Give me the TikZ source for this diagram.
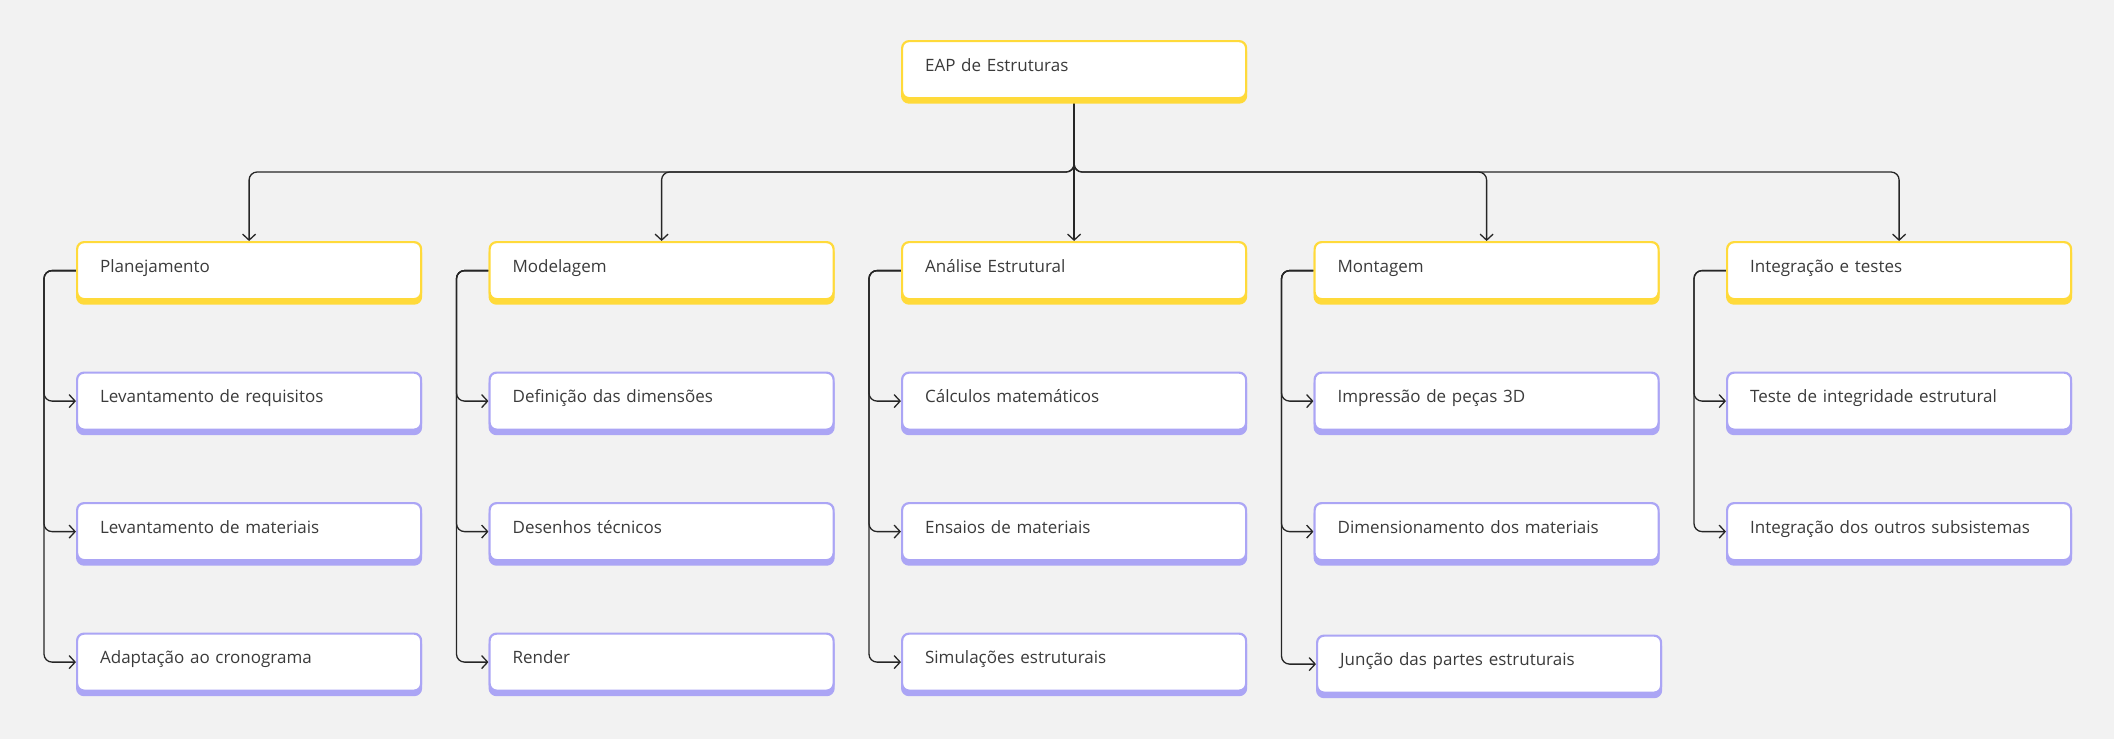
\documentclass[tikz,border=0pt]{standalone}
\usepackage{fontspec}
\setmainfont{Open Sans}
\usetikzlibrary{arrows.meta,shadows,backgrounds}
\usepackage{xcolor}

\definecolor{bggray}{HTML}{F2F2F2}
\definecolor{eapyellow}{HTML}{FFDA3A}
\definecolor{eappurple}{HTML}{ABA5F5}
\definecolor{eaptext}{HTML}{3B3B3B}

\tikzset{
  box/.style={draw, fill=white, line width=2.2pt, rounded corners=7pt, anchor=north west,
    inner xsep=23pt, inner ysep=0pt, text width=298pt, align=left,
    text height=30pt, text depth=27pt, text=eaptext, font=\fontsize{17}{20}\selectfont},
  topbox/.style={box, draw=eapyellow,
    general shadow={fill=eapyellow, draw=eapyellow, shadow yshift=-4.5pt}},
  subbox/.style={box, draw=eappurple,
    general shadow={fill=eappurple, draw=eappurple, shadow yshift=-4.5pt}},
  link/.style={line width=1.3pt, draw=black!85, rounded corners=8pt,
    -{Straight Barb[length=6pt,width=13pt]}}
}

\begin{document}
\begin{tikzpicture}[x=1pt,y=-1pt]
      \useasboundingbox (0,0) rectangle (2114,739);

      % Drawing the root
      \node[topbox] (root) at (901,40) {EAP de Estruturas};

      % Drawing the work packages
      \node[topbox] (plan) at (76,241) {Planejamento};
      \node[topbox] (model) at (488.5,241) {Modelagem};
      \node[topbox] (anal) at (901,241) {Análise Estrutural};
      \node[topbox] (mont) at (1313.5,241) {Montagem};
      \node[topbox] (integ) at (1726,241) {Integração e testes};

      % Drawing the tasks
      \node[subbox] (plan1) at (76,371.5) {Levantamento de requisitos};
      \node[subbox] (plan2) at (76,502) {Levantamento de materiais};
      \node[subbox] (plan3) at (76,632.5) {Adaptação ao cronograma};
      \node[subbox] (model1) at (488.5,371.5) {Definição das dimensões};
      \node[subbox] (model2) at (488.5,502) {Desenhos técnicos};
      \node[subbox] (model3) at (488.5,632.5) {Render};
      \node[subbox] (anal1) at (901,371.5) {Cálculos matemáticos};
      \node[subbox] (anal2) at (901,502) {Ensaios de materiais};
      \node[subbox] (anal3) at (901,632.5) {Simulações estruturais};
      \node[subbox] (mont1) at (1313.5,371.5) {Impressão de peças 3D};
      \node[subbox] (mont2) at (1313.5,502) {Dimensionamento dos materiais};
      \node[subbox] (mont3) at (1316,634.5) {Junção das partes estruturais};
      \node[subbox] (integ1) at (1726,371.5) {Teste de integridade estrutural};
      \node[subbox] (integ2) at (1726,502) {Integração dos outros subsistemas};

      \begin{scope}[on background layer]
      % Drawing the background
      \fill[bggray] (0,0) rectangle (2114,739);

      % Drawing the links from the root
      \coordinate (bus) at (root.south |- 0,172);
      \draw[link] (root.south) -- (bus) -| (plan.north);
      \draw[link] (root.south) -- (bus) -| (model.north);
      \draw[link] (root.south) -- (anal.north);
      \draw[link] (root.south) -- (bus) -| (mont.north);
      \draw[link] (root.south) -- (bus) -| (integ.north);

      % Drawing the links to the tasks
      \draw[link] (plan.west) -- ++(-32,0) |- (plan1.west);
      \draw[link] (plan.west) -- ++(-32,0) |- (plan2.west);
      \draw[link] (plan.west) -- ++(-32,0) |- (plan3.west);
      \draw[link] (model.west) -- ++(-32,0) |- (model1.west);
      \draw[link] (model.west) -- ++(-32,0) |- (model2.west);
      \draw[link] (model.west) -- ++(-32,0) |- (model3.west);
      \draw[link] (anal.west) -- ++(-32,0) |- (anal1.west);
      \draw[link] (anal.west) -- ++(-32,0) |- (anal2.west);
      \draw[link] (anal.west) -- ++(-32,0) |- (anal3.west);
      \draw[link] (mont.west) -- ++(-32,0) |- (mont1.west);
      \draw[link] (mont.west) -- ++(-32,0) |- (mont2.west);
      \draw[link] (mont.west) -- ++(-32,0) |- (mont3.west);
      \draw[link] (integ.west) -- ++(-32,0) |- (integ1.west);
      \draw[link] (integ.west) -- ++(-32,0) |- (integ2.west);
      \end{scope}
    \end{tikzpicture}
\end{document}
